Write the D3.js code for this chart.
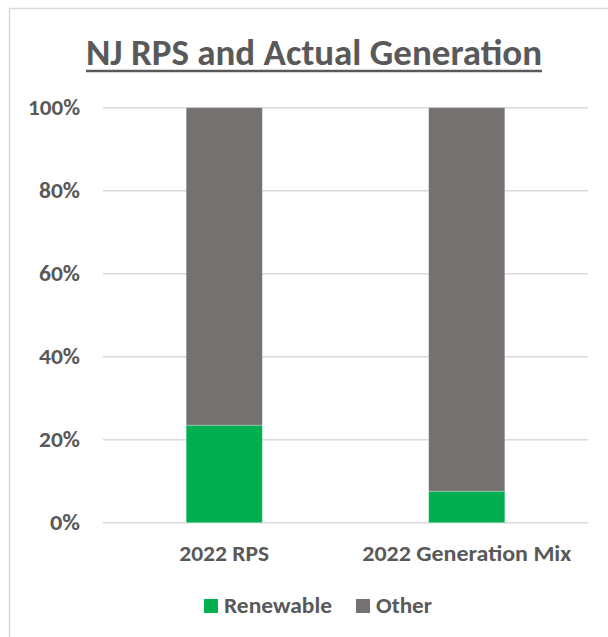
<!DOCTYPE html>
<html>
<head>
<meta charset="utf-8">
<script src="https://cdn.jsdelivr.net/npm/d3@7"></script>
<style>
  html, body { margin: 0; padding: 0; background: #fff; }
  svg { display: block; }
  text { font-family: Carlito, "Open Sans", sans-serif; font-weight: bold; fill: #595959; }
</style>
</head>
<body>
<svg id="chart" width="608" height="637"></svg>
<script>
const categories = ["2022 RPS", "2022 Generation Mix"];
const renewable = [0.235, 0.076];
const other = [0.765, 0.924];
const seriesNames = ["Renewable", "Other"];
const seriesColors = ["#00B050", "#767171"];
const yTicks = [0, 0.2, 0.4, 0.6, 0.8, 1.0];
const titleText = "NJ RPS and Actual Generation";

const svg = d3.select("#chart");

// chart frame
svg.append("rect").attr("x", 9.5).attr("y", 8.5).attr("width", 700).attr("height", 700)
  .attr("fill", "#fff").attr("stroke", "#d9d9d9").attr("stroke-width", 1.5);

function fitWidth(sel, w) {
  sel.attr("textLength", w).attr("lengthAdjust", "spacingAndGlyphs");
}

// scales
const x = d3.scaleBand().domain(categories).range([103, 588]).paddingInner(0.686).paddingOuter(0.343);
const y = d3.scaleLinear().domain([0, 1]).range([522.7, 107.7]);

// gridlines
svg.append("g").selectAll("line").data(yTicks).join("line")
  .attr("x1", 103).attr("x2", 588)
  .attr("y1", d => y(d)).attr("y2", d => y(d))
  .attr("stroke", "#d9d9d9").attr("stroke-width", 1.5);

// stacked data
const table = categories.map((c, i) => ({ cat: c, Renewable: renewable[i], Other: other[i] }));
const stack = d3.stack().keys(seriesNames)(table);
const color = d3.scaleOrdinal().domain(seriesNames).range(seriesColors);

svg.append("g").selectAll("g").data(stack).join("g")
  .attr("fill", d => color(d.key))
  .selectAll("rect").data(d => d).join("rect")
  .attr("x", d => x(d.data.cat))
  .attr("width", x.bandwidth())
  .attr("y", d => y(d[1]))
  .attr("height", d => y(d[0]) - y(d[1]))
  .attr("stroke", "#ffffff").attr("stroke-opacity", 0.35).attr("stroke-width", 0.75);

// y axis labels
const fmt = d3.format(".0%");
const yAxis = d3.axisLeft(y).tickValues(yTicks).tickFormat(fmt).tickSize(0).tickPadding(0);
const yg = svg.append("g").attr("transform", "translate(80,0)").call(yAxis);
yg.select(".domain").remove();
yg.selectAll("text")
  .attr("font-size", 22.5).attr("dy", null).attr("y", 7)
  .style("font-family", 'Carlito, "Open Sans", sans-serif').style("font-weight", "bold")
  .attr("fill", "#595959")
  .each(function(d) {
    const t = fmt(d);
    const digits = t.length - 1;
    fitWidth(d3.select(this), digits * 11 + 19);
  });

// x axis labels
const xAxis = d3.axisBottom(x).tickSize(0).tickPadding(0);
const xg = svg.append("g").attr("transform", "translate(0,561)").call(xAxis);
xg.select(".domain").remove();
const xWidths = [90, 209];
xg.selectAll("text")
  .attr("font-size", 23).attr("dy", null).attr("y", 0)
  .style("font-family", 'Carlito, "Open Sans", sans-serif').style("font-weight", "bold")
  .attr("fill", "#595959")
  .each(function(d, i) { fitWidth(d3.select(this), xWidths[i]); });

// title
const title = svg.append("text").attr("x", 314).attr("y", 65).attr("text-anchor", "middle")
  .attr("font-size", 37).text(titleText);
fitWidth(title, 456);
svg.append("line").attr("x1", 86).attr("x2", 542).attr("y1", 71).attr("y2", 71)
  .attr("stroke", "#595959").attr("stroke-width", 2.5);

// legend
const legendX = [204, 356];
const legendW = [108, 56];
const lg = svg.append("g").selectAll("g").data(seriesNames).join("g")
  .attr("transform", (d, i) => `translate(${legendX[i]},599)`);
lg.append("rect").attr("width", 14).attr("height", 14).attr("fill", d => color(d));
lg.append("text").attr("x", 20).attr("y", 14).attr("font-size", 23).text(d => d)
  .each(function(d, i) { fitWidth(d3.select(this), legendW[i]); });
</script>
</body>
</html>
